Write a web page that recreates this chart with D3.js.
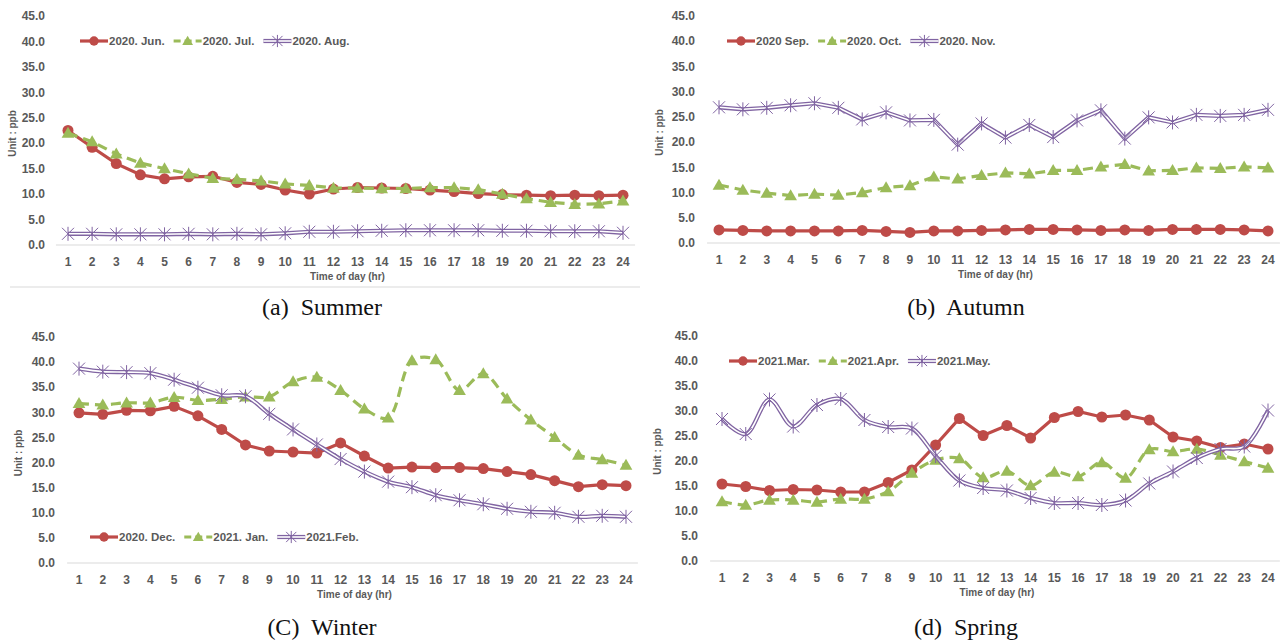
<!DOCTYPE html>
<html>
<head>
<meta charset="utf-8">
<script src="https://cdn.jsdelivr.net/npm/d3@7"></script>
<style>
  body { margin: 0; background: #fff; }
  svg { display: block; }
  .tick-label { font-family: "Liberation Sans", Arial, sans-serif; font-weight: bold; fill: #595959; }
  .caption { font-family: "Liberation Serif", "DejaVu Serif", serif; fill: #111; white-space: pre; }
</style>
</head>
<body>
<div class="chart"></div>
<script>
const hours = d3.range(1, 25);
const yTicks = [0, 5, 10, 15, 20, 25, 30, 35, 40, 45];

// (a) Summer
const jun2020 = [22.5, 19.2, 16.0, 13.8, 13.0, 13.4, 13.5, 12.3, 11.9, 10.8, 10.0, 11.0, 11.3, 11.2, 11.1, 10.8, 10.5, 10.1, 9.9, 9.8, 9.7, 9.8, 9.7, 9.8];
const jul2020 = [22.0, 20.3, 17.9, 16.1, 15.0, 14.0, 13.1, 12.9, 12.6, 12.0, 11.7, 11.2, 11.2, 11.1, 11.1, 11.3, 11.3, 10.9, 10.0, 9.1, 8.4, 8.0, 8.1, 8.7];
const aug2020 = [2.2, 2.2, 2.1, 2.1, 2.1, 2.2, 2.1, 2.2, 2.1, 2.3, 2.6, 2.6, 2.7, 2.8, 2.9, 2.9, 2.9, 2.9, 2.8, 2.8, 2.7, 2.7, 2.7, 2.4];

// (b) Autumn
const sep2020 = [2.6, 2.5, 2.4, 2.4, 2.4, 2.4, 2.5, 2.3, 2.1, 2.4, 2.4, 2.5, 2.6, 2.7, 2.7, 2.6, 2.5, 2.6, 2.5, 2.7, 2.7, 2.7, 2.6, 2.4];
const oct2020 = [11.5, 10.5, 9.9, 9.4, 9.7, 9.5, 10.0, 11.0, 11.4, 13.1, 12.7, 13.4, 13.9, 13.7, 14.4, 14.4, 15.1, 15.6, 14.3, 14.4, 14.9, 14.8, 15.1, 14.9];
const nov2020 = [26.9, 26.5, 26.8, 27.3, 27.7, 26.8, 24.5, 25.9, 24.3, 24.4, 19.5, 23.7, 20.9, 23.4, 21.0, 24.3, 26.3, 20.7, 24.9, 23.9, 25.4, 25.2, 25.4, 26.4];

// (C) Winter
const dec2020 = [29.9, 29.6, 30.4, 30.3, 31.2, 29.3, 26.6, 23.5, 22.3, 22.1, 21.9, 23.9, 21.3, 18.9, 19.1, 19.0, 19.0, 18.8, 18.2, 17.6, 16.4, 15.2, 15.6, 15.4];
const jan2021 = [31.8, 31.5, 31.9, 31.9, 33.0, 32.4, 32.6, 33.1, 33.1, 36.1, 37.0, 34.4, 30.7, 28.9, 40.3, 40.5, 34.4, 37.7, 32.7, 28.5, 25.0, 21.5, 20.6, 19.5];
const feb2021 = [38.7, 38.1, 38.0, 37.8, 36.5, 34.9, 33.4, 33.2, 29.7, 26.6, 23.6, 20.7, 18.2, 16.2, 15.1, 13.5, 12.5, 11.7, 10.8, 10.2, 10.0, 9.2, 9.4, 9.2];

// (d) Spring
const mar2021 = [15.4, 14.9, 14.1, 14.3, 14.2, 13.8, 13.8, 15.7, 18.2, 23.2, 28.5, 25.1, 27.1, 24.6, 28.7, 29.9, 28.8, 29.2, 28.2, 24.8, 24.0, 22.7, 23.4, 22.4];
const apr2021 = [11.9, 11.2, 12.2, 12.2, 11.8, 12.4, 12.4, 13.9, 17.6, 20.2, 20.5, 16.7, 18.0, 15.1, 17.8, 16.9, 19.7, 16.6, 22.3, 21.9, 22.4, 21.2, 19.9, 18.6];
const may2021 = [28.4, 25.4, 32.3, 26.9, 31.2, 32.4, 28.2, 26.8, 26.5, 21.0, 16.1, 14.6, 14.1, 12.6, 11.6, 11.6, 11.2, 12.1, 15.5, 17.9, 20.6, 22.4, 22.9, 30.1];

const RED = "#BE4B48", GREEN = "#9BBB59", PURPLE = "#8064A2";

const svg = d3.select(".chart").append("svg")
  .attr("width", 1286)
  .attr("height", 642);

const panels = [
  { caption: "(a)  Summer", capX: 322, capY: 315,
    x0: 68, x1: 623, y0: 245, y1: 16, labelEnd: 45, unitX: 12, legX: 80, legY: 41, rule: true,
    names: ["2020. Jun.", "2020. Jul.", "2020. Aug."], data: [jun2020, jul2020, aug2020],
    smooth: [false, false, false] },
  { caption: "(b)  Autumn", capX: 966, capY: 315,
    x0: 719, x1: 1268, y0: 243, y1: 16, labelEnd: 695, unitX: 659, legX: 727, legY: 41,
    names: ["2020 Sep.", "2020. Oct.", "2020. Nov."], data: [sep2020, oct2020, nov2020],
    smooth: [false, false, false] },
  { caption: "(C)  Winter", capX: 322, capY: 635,
    x0: 79, x1: 626, y0: 563, y1: 337, labelEnd: 55, unitX: 18, legX: 90, legY: 537,
    names: ["2020. Dec.", "2021. Jan.", "2021.Feb."], data: [dec2020, jan2021, feb2021],
    smooth: [false, true, true] },
  { caption: "(d)  Spring", capX: 966, capY: 635,
    x0: 722, x1: 1268, y0: 561, y1: 336, labelEnd: 698, unitX: 657, legX: 729, legY: 361,
    names: ["2021.Mar.", "2021.Apr.", "2021.May."], data: [mar2021, apr2021, may2021],
    smooth: [false, true, true] }
];

const styles = [
  { color: RED, dash: null, marker: "circle" },
  { color: GREEN, dash: "10,6", marker: "triangle" },
  { color: PURPLE, dash: null, marker: "star" }
];

function drawMarker(g, type, cx, cy, scale) {
  const k = scale || 1;
  if (type === "circle") {
    g.append("circle").attr("cx", cx).attr("cy", cy).attr("r", 5.5 * k).attr("fill", RED);
  } else if (type === "triangle") {
    g.append("path")
      .attr("d", d3.symbol(d3.symbolTriangle, 70 * k * k)())
      .attr("transform", `translate(${cx},${cy + 1})`)
      .attr("fill", GREEN);
  } else {
    const s = 6 * k;
    g.append("path")
      .attr("d", `M${cx - s},${cy - s}L${cx + s},${cy + s}M${cx - s},${cy + s}L${cx + s},${cy - s}M${cx},${cy - s - 1}L${cx},${cy + s + 1}`)
      .attr("stroke", PURPLE).attr("stroke-width", 1).attr("fill", "none");
  }
}

function drawSeries(g, vals, st, curve, x, y) {
  const line = d3.line()
    .x((d, i) => x(hours[i]))
    .y(d => y(d))
    .curve(curve);
  if (st.marker === "star") {
    g.append("path").attr("d", line(vals)).attr("fill", "none")
      .attr("stroke", PURPLE).attr("stroke-width", 4.2);
    g.append("path").attr("d", line(vals)).attr("fill", "none")
      .attr("stroke", "#fff").attr("stroke-width", 1.6);
  } else {
    g.append("path").attr("d", line(vals)).attr("fill", "none")
      .attr("stroke", st.color).attr("stroke-width", 3.2)
      .attr("stroke-dasharray", st.dash);
  }
  vals.forEach((v, i) => drawMarker(g, st.marker, x(hours[i]), y(v)));
}

panels.forEach(p => {
  const x = d3.scaleLinear().domain([1, 24]).range([p.x0, p.x1]);
  const y = d3.scaleLinear().domain([0, 45]).range([p.y0, p.y1]);
  const step = x(2) - x(1);
  const g = svg.append("g");

  // baseline
  g.append("line")
    .attr("x1", p.x0 - step / 2).attr("x2", p.x1 + step / 2)
    .attr("y1", y(0)).attr("y2", y(0))
    .attr("stroke", "#D9D9D9").attr("stroke-width", 1);

  // y tick labels
  g.selectAll(".ylab").data(yTicks).enter().append("text")
    .attr("class", "tick-label")
    .attr("x", p.labelEnd).attr("y", d => y(d))
    .attr("dy", "0.35em").attr("text-anchor", "end")
    .attr("font-size", 12)
    .text(d => d.toFixed(1));

  // x tick labels
  g.selectAll(".xlab").data(hours).enter().append("text")
    .attr("class", "tick-label")
    .attr("x", d => x(d)).attr("y", y(0) + 17)
    .attr("dy", "0.35em").attr("text-anchor", "middle")
    .attr("font-size", 12)
    .text(d => d);

  g.append("text").attr("class", "tick-label")
    .attr("x", (p.x0 + p.x1) / 2 + 2).attr("y", y(0) + 31)
    .attr("dy", "0.35em").attr("text-anchor", "middle")
    .attr("font-size", 10)
    .text("Time of day (hr)");

  g.append("text").attr("class", "tick-label")
    .attr("transform", `translate(${p.unitX},${(p.y0 + p.y1) / 2 + 3}) rotate(-90)`)
    .attr("dy", "0.35em").attr("text-anchor", "middle")
    .attr("font-size", 10)
    .text("Unit : ppb");

  // series
  p.data.forEach((vals, k) => {
    const curve = p.smooth[k] ? d3.curveCatmullRom.alpha(0.5) : d3.curveLinear;
    drawSeries(g, vals, styles[k], curve, x, y);
  });

  // legend
  let lx = p.legX;
  p.names.forEach((name, k) => {
    const st = styles[k];
    const lg = g.append("g");
    if (st.marker === "star") {
      lg.append("line").attr("x1", lx).attr("x2", lx + 28).attr("y1", p.legY).attr("y2", p.legY)
        .attr("stroke", PURPLE).attr("stroke-width", 4.2);
      lg.append("line").attr("x1", lx).attr("x2", lx + 28).attr("y1", p.legY).attr("y2", p.legY)
        .attr("stroke", "#fff").attr("stroke-width", 1.6);
    } else {
      lg.append("line").attr("x1", lx).attr("x2", lx + 28).attr("y1", p.legY).attr("y2", p.legY)
        .attr("stroke", st.color).attr("stroke-width", 3.2)
        .attr("stroke-dasharray", st.dash ? "7,4" : null);
    }
    drawMarker(lg, st.marker, lx + 14, p.legY, 0.85);
    const t = lg.append("text").attr("class", "tick-label")
      .attr("x", lx + 29).attr("y", p.legY).attr("dy", "0.35em")
      .attr("font-size", 11.5)
      .text(name);
    lx += 29 + t.node().getComputedTextLength() + 9;
  });

  if (p.rule) {
    g.append("line").attr("x1", 10).attr("x2", 640).attr("y1", 287).attr("y2", 287)
      .attr("stroke", "#D9D9D9").attr("stroke-width", 1);
  }

  g.append("text").attr("class", "caption")
    .attr("x", p.capX).attr("y", p.capY)
    .attr("text-anchor", "middle")
    .attr("font-size", 24)
    .text(p.caption);
});
</script>
</body>
</html>
